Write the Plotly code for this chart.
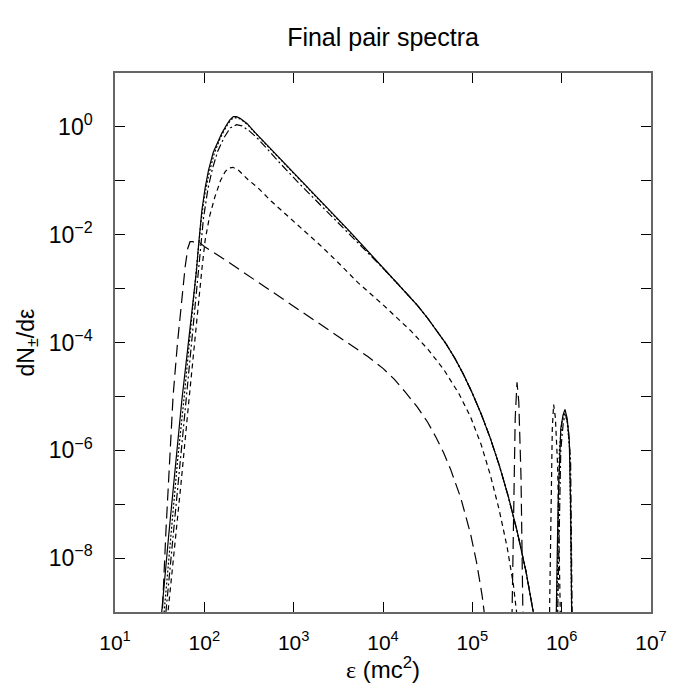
import plotly.graph_objects as go

# ---- data: log10(energy [mc^2]) and log10(dN/de) ----
# None separates the main spectrum from the high-energy spike
solid_log_e = [1.505, 1.523, 1.60, 1.68, 1.749, 1.815, 1.88, 1.91, 1.935, 1.972, 2.01, 2.047,
               2.10, 2.15, 2.195, 2.25, 2.29, 2.325, 2.36, 2.40, 2.48, 2.567, 2.70, 2.863,
               3.05, 3.23, 3.42, 3.606, 3.80, 4.0, 4.2, 4.385, 4.5, 4.6, 4.7, 4.8, 4.9, 5.0,
               5.1, 5.2, 5.3, 5.4, 5.5, 5.6, 5.685, 5.72, None,
               5.935, 5.96, 5.99, 6.015, 6.037, 6.06, 6.085, 6.10, 6.115]
solid_log_n = [-9.6, -9.0, -7.6, -6.25, -5.06, -4.1, -3.2, -2.7, -2.2, -1.55, -1.12, -0.8,
               -0.47, -0.27, -0.12, 0.04, 0.14, 0.19, 0.19, 0.16, 0.06, -0.10, -0.33, -0.61,
               -0.93, -1.24, -1.57, -1.90, -2.25, -2.61, -2.97, -3.31, -3.55, -3.77, -4.01, -4.28, -4.59, -4.94,
               -5.33, -5.77, -6.27, -6.84, -7.49, -8.24, -9.0, -9.35, None,
               -9.5, -7.0, -5.6, -5.35, -5.24, -5.40, -5.80, -7.0, -9.5]

dotted_log_e = [1.53, 1.55, 1.625, 1.70, 1.775, 1.84, 1.89, 1.925, 1.96, 2.0, 2.05, 2.11,
                2.17, 2.22, 2.27, 2.31, 2.35, 2.40, 2.48, 2.567, 2.70, 2.863, 3.05, 3.23,
                3.42, 3.606, 3.80, 4.0, 4.2, 4.385, 4.5, 4.6, 4.7, 4.8, 4.9, 5.0,
                5.1, 5.2, 5.3, 5.4, 5.5, 5.6, 5.685, 5.72, None,
                5.94, 5.975, 6.0, 6.03, 6.06, 6.09, 6.115]
dotted_log_n = [-9.6, -9.0, -7.6, -6.2, -5.0, -3.9, -3.0, -2.4, -1.8, -1.3, -0.88, -0.5,
                -0.24, -0.07, 0.07, 0.15, 0.17, 0.15, 0.05, -0.11, -0.34, -0.62, -0.94, -1.25,
                -1.58, -1.91, -2.26, -2.62, -2.97, -3.31, -3.55, -3.77, -4.01, -4.28, -4.59, -4.94,
                -5.33, -5.77, -6.27, -6.84, -7.49, -8.24, -9.0, -9.35, None,
                -9.5, -6.0, -5.5, -5.30, -5.45, -6.0, -9.5]

dashdot_log_e = [1.55, 1.57, 1.65, 1.73, 1.80, 1.86, 1.91, 1.95, 1.99, 2.04, 2.09, 2.15,
                 2.22, 2.29, 2.36, 2.42, 2.50, 2.60, 2.68, 2.863, 3.05, 3.23, 3.42, 3.606,
                 3.80, 4.0, 4.2, 4.385, 4.5, 4.6, 4.7, 4.8, 4.9, 5.0,
                 5.1, 5.2, 5.3, 5.4, 5.5, 5.6, 5.685, 5.72, None,
                 5.95, 5.99, 6.02, 6.045, 6.07, 6.10, 6.12]
dashdot_log_n = [-9.6, -9.0, -7.6, -6.2, -5.0, -3.9, -3.0, -2.3, -1.7, -1.15, -0.78, -0.45,
                 -0.20, -0.02, 0.04, 0.02, -0.07, -0.22, -0.37, -0.70, -1.03, -1.33, -1.64, -1.96,
                 -2.29, -2.62, -2.97, -3.31, -3.55, -3.77, -4.01, -4.28, -4.59, -4.94,
                 -5.33, -5.77, -6.27, -6.84, -7.49, -8.24, -9.0, -9.35, None,
                 -9.5, -6.0, -5.45, -5.35, -5.50, -6.2, -9.5]

shortdash_log_e = [1.575, 1.594, 1.66, 1.74, 1.82, 1.88, 1.935, 1.975, 2.01, 2.06, 2.12, 2.18,
                   2.23, 2.27, 2.32, 2.38, 2.49, 2.60, 2.75, 2.94, 3.10, 3.30, 3.50, 3.72,
                   4.0, 4.31, 4.50, 4.68, 4.85, 4.98, 5.10, 5.20, 5.30, 5.39, 5.46, 5.50, 5.53, None,
                   5.86, 5.88, 5.895, 5.91, 5.93, 5.955, 5.975, 5.99]
shortdash_log_n = [-9.3, -9.0, -7.9, -6.6, -5.2, -4.15, -3.2, -2.6, -2.09, -1.65, -1.29, -1.0,
                   -0.84, -0.765, -0.75, -0.80, -0.98, -1.13, -1.38, -1.66, -1.90, -2.20, -2.52, -2.89,
                   -3.30, -3.78, -4.12, -4.50, -4.95, -5.38, -5.90, -6.45, -7.10, -7.80, -8.50, -9.0, -9.5, None,
                   -9.5, -7.0, -5.6, -5.15, -5.4, -6.3, -8.0, -9.5]

longdash_log_e = [1.51, 1.53, 1.57, 1.61, 1.65, 1.70, 1.745, 1.785, 1.815, 1.84, 1.87, 1.90, 1.935,
                  2.0, 2.2, 2.5, 2.863, 3.1, 3.35, 3.6, 3.83, 4.0, 4.125, 4.25, 4.385,
                  4.5, 4.59, 4.68, 4.756, 4.87, 4.98, 5.05, 5.11, 5.14, 5.16, None,
                  5.44, 5.46, 5.48, 5.50, 5.52, 5.545, 5.57]
longdash_log_n = [-9.6, -9.0, -7.5, -6.2, -5.0, -4.0, -3.2, -2.6, -2.25, -2.13, -2.13, -2.15, -2.13,
                  -2.22, -2.43, -2.77, -3.17, -3.44, -3.73, -4.0, -4.26, -4.48, -4.68, -4.92, -5.2,
                  -5.48, -5.75, -6.05, -6.35, -6.88, -7.55, -8.1, -8.7, -9.1, -9.5, None,
                  -9.5, -7.0, -5.4, -4.74, -5.1, -6.5, -9.5]

x_tick_exps = [1, 2, 3, 4, 5, 6, 7]
y_tick_exps = [1, 0, -1, -2, -3, -4, -5, -6, -7, -8, -9]
y_label_exps = [0, -2, -4, -6, -8]


def tolin(vals):
    return [None if v is None else 10 ** v for v in vals]


series = [
    (longdash_log_e, longdash_log_n, "12px,6px"),
    (shortdash_log_e, shortdash_log_n, "5px,4px"),
    (dashdot_log_e, dashdot_log_n, "8px,3px,2px,3px"),
    (dotted_log_e, dotted_log_n, "2px,2px"),
    (solid_log_e, solid_log_n, "solid"),
]

fig = go.Figure()
for le, ln, dash in series:
    fig.add_trace(go.Scatter(x=tolin(le), y=tolin(ln), mode="lines",
                             line=dict(color="black", width=1.2, dash=dash),
                             connectgaps=False, showlegend=False))

FONT = "Liberation Sans, Arial, Helvetica, sans-serif"
L, R, T, B = 107, 33, 65, 85
PW = 676 - L - R
PH = 689 - T - B


def sup(e):
    s = str(e).replace("-", "\u2212")
    return "10<sup>" + s + "</sup>"


fig.update_layout(
    width=676, height=689,
    margin=dict(l=L, r=R, t=T, b=B),
    paper_bgcolor="white", plot_bgcolor="white",
    font=dict(family=FONT, color="black", size=22),
    title=dict(text="Final pair spectra", x=0.5, xref="paper", xanchor="center",
               y=1 - 29 / 689, yref="container", yanchor="middle",
               font=dict(size=25, family=FONT, color="black")),
    showlegend=False,
)

fig.update_xaxes(type="log", range=[1, 7], showgrid=False, zeroline=False,
                 tickvals=[10 ** e for e in x_tick_exps],
                 ticktext=[sup(e) for e in x_tick_exps],
                 ticks="inside", ticklen=10, tickwidth=1, tickcolor="black",
                 showline=True, linecolor="#666", linewidth=1.5, mirror="ticks",
                 ticklabelstandoff=11, tickfont=dict(size=21, family=FONT))
fig.update_yaxes(type="log", range=[-9, 1], showgrid=False, zeroline=False,
                 tickvals=[10 ** e for e in y_tick_exps],
                 ticktext=[sup(e) if e in y_label_exps else "" for e in y_tick_exps],
                 ticks="inside", ticklen=10, tickwidth=1, tickcolor="black",
                 showline=True, linecolor="#666", linewidth=1.5, mirror="ticks",
                 ticklabelstandoff=16, tickfont=dict(size=23, family=FONT))

fig.add_annotation(text="<span style='font-family:Liberation Serif, Times New Roman, serif'>\u03b5</span> (mc<sup>2</sup>)",
                   xref="paper", yref="paper", x=0.5, y=-56 / PH,
                   xanchor="center", yanchor="middle", showarrow=False,
                   font=dict(size=24, family=FONT, color="black"))
fig.add_annotation(text="dN<sub>\u00b1</sub>/d\u03b5",
                   xref="paper", yref="paper", x=-88 / PW, y=0.5,
                   xanchor="center", yanchor="middle", showarrow=False, textangle=-90,
                   font=dict(size=23, family=FONT, color="black"))

fig.write_html("out.html")
